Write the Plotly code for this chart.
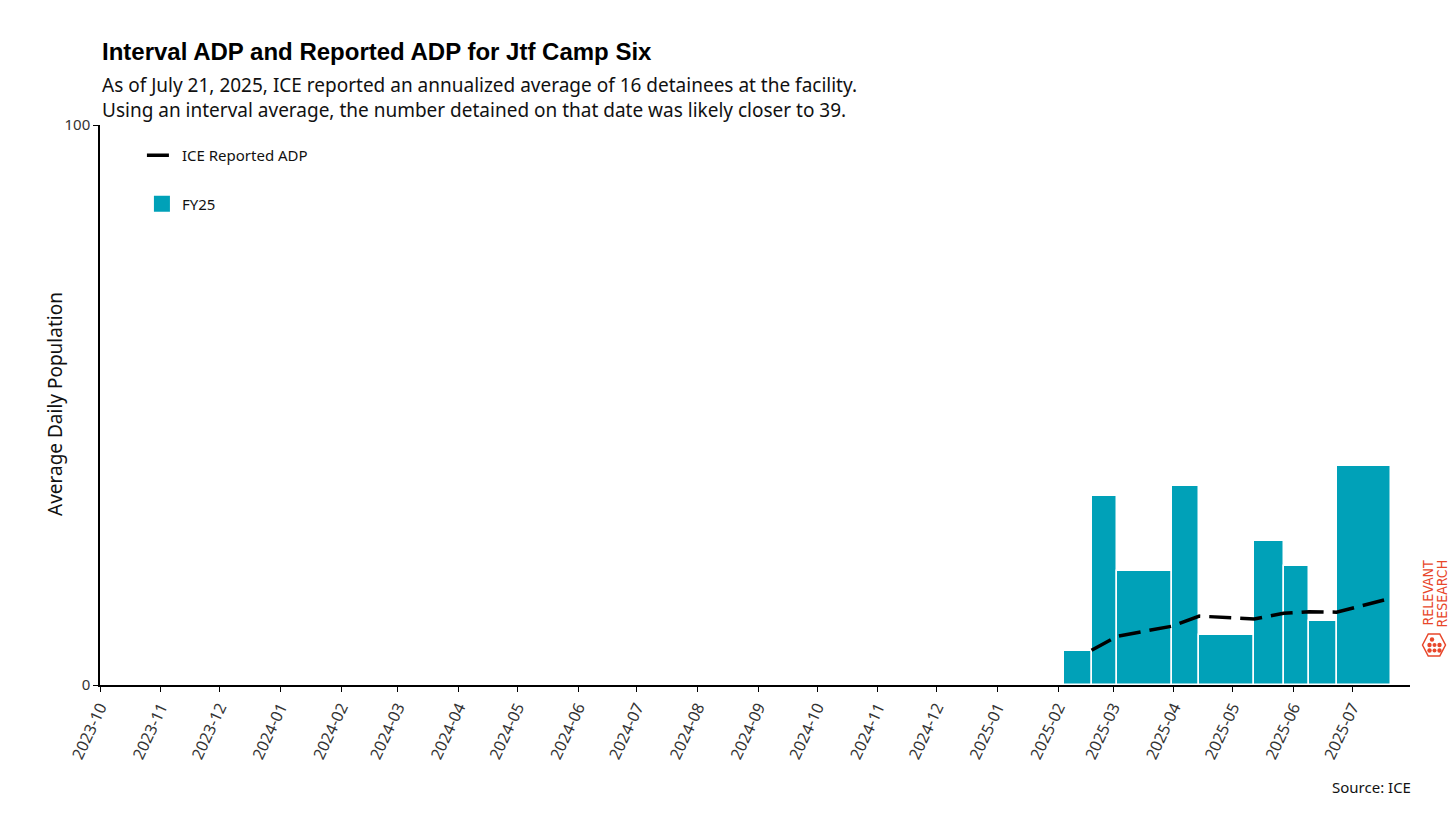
import pandas as pd
import plotly.graph_objs as go

# ICE reporting dates (interval boundaries)
report_dates = ["2025-02-04", "2025-02-18", "2025-03-03", "2025-03-31", "2025-04-14",
                "2025-05-12", "2025-05-27", "2025-06-09", "2025-06-23", "2025-07-21"]

# interval ADP for each span between consecutive reports
interval_adp = [6.1, 33.8, 20.4, 35.5, 8.9, 25.8, 21.2, 11.5, 39.1]

# ICE reported (annualized) ADP at each report date, from the 2nd report on
reported_dates = report_dates[1:]
reported_adp = [6.2, 8.7, 10.5, 12.3, 11.8, 12.8, 13.1, 13.0, 15.5]

TEAL = "rgb(0,161,184)"
BRAND = "#E8472B"
FONT = "Noto Sans"
LOGO_FONT = "Liberation Sans Narrow, DejaVu Sans Condensed, Liberation Sans"

# figure is drawn 8px smaller than the window (page body margin)
W, H = 1448, 811
ML, MR, MT, MB = 92, 46, 117, 134


def px(x, y):
    # figure pixels -> paper coords, for the bits placed outside the plot
    pw = W - ML - MR
    ph = H - MT - MB
    return (x - ML) / pw, (H - MB - y) / ph


def dot(cx, cy, r):
    x0, y0 = px(cx - r, cy + r)
    x1, y1 = px(cx + r, cy - r)
    return dict(type="circle", xref="paper", yref="paper", x0=x0, x1=x1, y0=y0, y1=y1,
                fillcolor=BRAND, line=dict(width=0))


def hexagon(cx, cy, w, h):
    pts = [(cx - w, cy), (cx - w / 2, cy - h), (cx + w / 2, cy - h),
           (cx + w, cy), (cx + w / 2, cy + h), (cx - w / 2, cy + h)]
    path = ""
    for i, (x, y) in enumerate(pts):
        a, b = px(x, y)
        path += ("M " if i == 0 else " L ") + "{:.5f},{:.5f}".format(a, b)
    return dict(type="path", xref="paper", yref="paper", path=path + " Z",
                line=dict(color=BRAND, width=1.5), fillcolor="rgba(0,0,0,0)")


def main():
    starts = pd.to_datetime(report_dates[:-1])
    ends = pd.to_datetime(report_dates[1:])
    widths = [(e - s).total_seconds() * 1000 for s, e in zip(starts, ends)]

    bars = go.Bar(x=starts, y=interval_adp, width=widths, offset=0, name="FY25",
                  marker=dict(color=TEAL, line=dict(color="white", width=1.5)),
                  showlegend=False)

    # legend-only entry so the swatch is a bigger square like the original
    bars_key = go.Scatter(x=[None], y=[None], mode="markers", name="FY25",
                          marker=dict(symbol="square", size=18, color=TEAL),
                          legendgroup="fy25", legendrank=2)

    line = go.Scatter(x=pd.to_datetime(reported_dates), y=reported_adp, mode="lines",
                      name="ICE Reported ADP", legendgroup="ice", legendrank=1,
                      line=dict(color="black", width=3.5, dash="22px,9px"))

    rr1x, rry = px(1419, 585.5)
    rr2x, _ = px(1433, 585.5)
    src_x, src_y = px(1405, 779)
    yt_x, yt_y = px(47, 396)

    layout = go.Layout(
        width=W, height=H,
        plot_bgcolor="white", paper_bgcolor="white",
        font=dict(family=FONT, color="#222", size=15),
        margin=dict(l=ML, r=MR, t=MT, b=MB),
        bargap=0,
        showlegend=True,
        legend=dict(x=0.032, y=0.975, xanchor="left", yanchor="top",
                    font=dict(size=15, color="#111"), tracegroupgap=26,
                    bgcolor="rgba(0,0,0,0)", itemwidth=30),
        xaxis=dict(type="date", range=["2023-10-01", "2025-07-30 12:00"],
                   dtick="M1", tick0="2023-10-01", tickformat="%Y-%m", tickangle=-65,
                   showline=True, linecolor="black", linewidth=1.5,
                   ticks="outside", ticklen=5, tickcolor="black",
                   showgrid=False, zeroline=False,
                   tickfont=dict(size=16, color="#333")),
        yaxis=dict(range=[0, 100], tickvals=[0, 100], showline=True, linecolor="black",
                   linewidth=1.5, ticks="outside", ticklen=5, tickcolor="black",
                   showgrid=False, zeroline=False,
                   tickfont=dict(size=15, color="#333")),
        annotations=[
            dict(text="<b>Interval ADP and Reported ADP for Jtf Camp Six</b>",
                 xref="paper", yref="paper", x=0, y=1.1304, xanchor="left", yanchor="middle",
                 showarrow=False, font=dict(family="Liberation Sans", size=24, color="black")),
            dict(text="As of July 21, 2025, ICE reported an annualized average of 16 detainees at the facility."
                      "<br>Using an interval average, the number detained on that date was likely closer to 39.",
                 xref="paper", yref="paper", x=0, y=1.098, xanchor="left", yanchor="top",
                 align="left", showarrow=False, font=dict(size=19, color="#111")),
            dict(text="Average Daily Population", xref="paper", yref="paper", x=yt_x, y=yt_y,
                 xanchor="center", yanchor="middle", textangle=-90, showarrow=False,
                 font=dict(size=19, color="#111")),
            dict(text="Source: ICE", xref="paper", yref="paper", x=src_x, y=src_y,
                 xanchor="right", yanchor="middle", showarrow=False,
                 font=dict(size=15, color="#111")),
            dict(text="RELEVANT", xref="paper", yref="paper", x=rr1x, y=rry,
                 xanchor="center", yanchor="middle", textangle=-90, showarrow=False,
                 font=dict(size=14, color=BRAND, family=LOGO_FONT)),
            dict(text="RESEARCH", xref="paper", yref="paper", x=rr2x, y=rry,
                 xanchor="center", yanchor="middle", textangle=-90, showarrow=False,
                 font=dict(size=14, color=BRAND, family=LOGO_FONT)),
        ],
        shapes=[
            hexagon(1426, 637, 11.5, 11),
            dot(1424, 631.5, 2.2),
            dot(1421.5, 637, 2.2), dot(1426.5, 637, 2.0), dot(1431.5, 637, 2.2),
            dot(1421.5, 642.5, 2.2), dot(1426.5, 642.5, 2.0), dot(1431.5, 642.5, 2.2),
        ],
    )

    fig = go.Figure([bars, line, bars_key], layout=layout)
    fig.write_html("out.html")


if __name__ == "__main__":
    main()
